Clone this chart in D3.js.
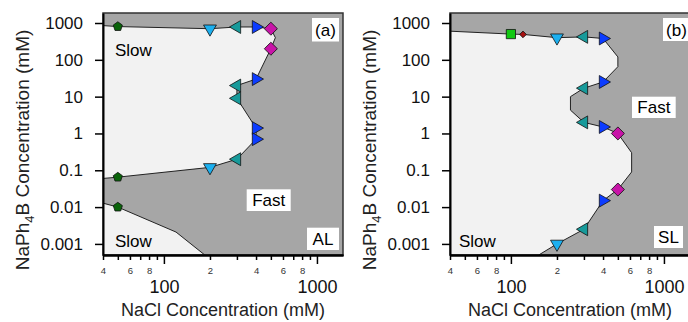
<!DOCTYPE html>
<html>
<head>
<meta charset="utf-8">
<script src="https://cdn.jsdelivr.net/npm/d3@7"></script>
<style>
body { margin: 0; background: #fff; }
text { font-family: "Liberation Sans", Arial, sans-serif; }
</style>
</head>
<body>
<script>
// axis ticks
var xMinorTicks = [40, 50, 60, 70, 80, 90, 200, 300, 400, 500, 600, 700, 800, 900];
var xMinorLabels = {40: "4", 60: "6", 80: "8", 200: "2", 400: "4", 600: "6", 800: "8"};
var xMajorTicks = [100, 1000];
var yTicks = [0.001, 0.01, 0.1, 1, 10, 100, 1000];
var yTickLabels = ["0.001", "0.01", "0.1", "1", "10", "100", "1000"];

// panel (a) boundaries  [NaCl, NaPh4B]
var aUpper = [[40, 850], [50, 800], [200, 700], [300, 780], [400, 780], [500, 700], [535, 400], [500, 200],
              [400, 30], [300, 20], [300, 9], [400, 1.4], [400, 0.7], [300, 0.2], [200, 0.12], [50, 0.065], [40, 0.06]];
var aLower = [[40, 0.0128], [50, 0.01], [120, 0.0021], [185, 0.0005]];

// panel (a) markers
var aPentagon = [[50, 800], [50, 0.065], [50, 0.01]];
var aDown = [[200, 700], [200, 0.12]];
var aLeft = [[300, 780], [300, 20], [300, 9], [300, 0.2]];
var aRight = [[400, 780], [400, 30], [400, 1.4], [400, 0.7]];
var aDiamond = [[500, 700], [500, 200]];

// panel (b) boundary
var bBound = [[40, 600], [100, 500], [120, 490], [200, 400], [300, 420], [400, 380], [500, 120], [500, 65],
              [400, 25], [300, 17], [245, 10], [245, 4.3], [300, 2], [400, 1.5], [500, 1], [615, 0.3], [615, 0.09],
              [500, 0.03], [400, 0.015], [300, 0.0025], [200, 0.001], [152, 0.0005]];

// panel (b) markers
var bSquare = [[100, 500]];
var bSmall = [[120, 490]];
var bDown = [[200, 400], [200, 0.001]];
var bLeft = [[300, 420], [300, 17], [300, 2], [300, 0.0025]];
var bRight = [[400, 380], [400, 25], [400, 1.5], [400, 0.015]];
var bDiamond = [[500, 1], [500, 0.03]];

var W = 240, H = 242;
var light = "#f2f2f2", dark = "#a6a6a6";

var pentagon = {
	draw: function(ctx, size) {
		var r = Math.sqrt(size / 2.378);
		for (var i = 0; i < 5; i++) {
			var a = -Math.PI / 2 + i * 2 * Math.PI / 5;
			if (i == 0) ctx.moveTo(r * Math.cos(a), r * Math.sin(a));
			else ctx.lineTo(r * Math.cos(a), r * Math.sin(a));
		}
		ctx.closePath();
	}
};

var svg = d3.select("body").append("svg")
	.attr("width", 688)
	.attr("height", 322);

function panel(id, left, polys, lines, markers, labels) {
	var x = d3.scaleLog().domain([40, 1480]).range([0, W]);
	var y = d3.scaleLog().domain([0.0005, 1870]).range([H, 0]);
	var g = svg.append("g").attr("transform", "translate(" + left + ",13)");

	g.append("clipPath").attr("id", "clip" + id)
		.append("rect").attr("width", W).attr("height", H);
	var plot = g.append("g").attr("clip-path", "url(#clip" + id + ")");

	plot.append("rect").attr("width", W).attr("height", H).attr("fill", dark);

	var line = d3.line().x(function(d){ return x(d[0]); }).y(function(d){ return y(d[1]); });

	plot.selectAll("path.light").data(polys)
		.enter().append("path")
		.attr("class", "light")
		.attr("d", function(d){ return line(d) + "Z"; })
		.attr("fill", light);

	plot.selectAll("path.bound").data(lines)
		.enter().append("path")
		.attr("class", "bound")
		.attr("d", line)
		.attr("fill", "none")
		.attr("stroke", "#222")
		.attr("stroke-width", 1);

	markers.forEach(function(m) {
		plot.selectAll(null).data(m.data)
			.enter().append("path")
			.attr("d", d3.symbol().type(m.type).size(m.size))
			.attr("transform", function(d){ return "translate(" + x(d[0]) + "," + y(d[1]) + ") rotate(" + m.rot + ")"; })
			.attr("fill", m.color)
			.attr("stroke", "#111")
			.attr("stroke-width", 0.8);
	});

	labels.forEach(function(l) {
		if (l.box) {
			g.append("rect").attr("x", l.x).attr("y", l.y).attr("width", l.w).attr("height", l.h).attr("fill", "#fff");
			g.append("text").attr("x", l.x + l.w / 2).attr("y", l.y + l.h / 2).attr("dy", "0.36em")
				.attr("text-anchor", "middle").attr("font-size", 17).text(l.t);
		} else {
			g.append("text").attr("x", l.x).attr("y", l.y).attr("font-size", 17).text(l.t);
		}
	});

	// frame
	g.append("rect").attr("width", W).attr("height", H)
		.attr("fill", "none").attr("stroke", "#333").attr("stroke-width", 1.5);

	var yAxis = g.append("g")
		.call(d3.axisLeft(y).tickValues(yTicks).tickFormat(function(d, i){ return yTickLabels[i]; })
			.tickSize(8).tickPadding(12).tickSizeOuter(0));
	yAxis.selectAll("text").attr("font-size", 17).attr("fill", "#111");

	var xMinor = g.append("g").attr("transform", "translate(0," + H + ")")
		.call(d3.axisBottom(x).tickValues(xMinorTicks).tickFormat(function(d){ return xMinorLabels[d] || ""; })
			.tickSize(5).tickPadding(7).tickSizeOuter(0));
	xMinor.selectAll("text").attr("font-size", 9.5).attr("fill", "#333");

	var xMajor = g.append("g").attr("transform", "translate(0," + H + ")")
		.call(d3.axisBottom(x).tickValues(xMajorTicks).tickFormat(d3.format("d"))
			.tickSize(9).tickPadding(16).tickSizeOuter(0));
	xMajor.selectAll("text").attr("font-size", 18).attr("fill", "#111");

	g.selectAll(".domain").attr("stroke", "#000").attr("stroke-width", 2);
	g.selectAll(".tick line").attr("stroke", "#000").attr("stroke-width", 1.5);

	g.append("text")
		.attr("x", W / 2).attr("y", 303)
		.attr("text-anchor", "middle").attr("font-size", 18).attr("fill", "#222")
		.text("NaCl Concentration (mM)");

	var yt = g.append("text")
		.attr("transform", "translate(-74," + (H / 2 + 16) + ") rotate(-90)")
		.attr("text-anchor", "middle").attr("font-size", 19).attr("fill", "#222");
	yt.append("tspan").text("NaPh");
	yt.append("tspan").attr("font-size", 13).attr("dy", 5).text("4");
	yt.append("tspan").attr("dy", -5).text("B Concentration (mM)");
}

panel("a", 103, [aUpper, aLower.concat([[40, 0.0005]])], [aUpper, aLower], [
	{data: aPentagon, type: pentagon, size: 55, rot: 0, color: "#0a640a"},
	{data: aDown, type: d3.symbolTriangle, size: 72, rot: 180, color: "#1cb0f0"},
	{data: aLeft, type: d3.symbolTriangle, size: 72, rot: -90, color: "#179a9a"},
	{data: aRight, type: d3.symbolTriangle, size: 72, rot: 90, color: "#0c3cff"},
	{data: aDiamond, type: d3.symbolSquare, size: 85, rot: 45, color: "#c814a8"}
], [
	{t: "(a)", box: true, x: 209, y: 5, w: 27, h: 23.5},
	{t: "AL", box: true, x: 204, y: 214.7, w: 32, h: 22.3},
	{t: "Fast", box: true, x: 143.7, y: 176.3, w: 44, h: 21.7},
	{t: "Slow", x: 12, y: 43},
	{t: "Slow", x: 12, y: 234}
]);

panel("b", 450, [bBound.concat([[40, 0.0005]])], [bBound], [
	{data: bSquare, type: d3.symbolSquare, size: 85, rot: 0, color: "#12c812"},
	{data: bSmall, type: d3.symbolSquare, size: 22, rot: 45, color: "#a81010"},
	{data: bDown, type: d3.symbolTriangle, size: 72, rot: 180, color: "#1cb0f0"},
	{data: bLeft, type: d3.symbolTriangle, size: 72, rot: -90, color: "#179a9a"},
	{data: bRight, type: d3.symbolTriangle, size: 72, rot: 90, color: "#0c3cff"},
	{data: bDiamond, type: d3.symbolSquare, size: 85, rot: 45, color: "#c814a8"}
], [
	{t: "(b)", box: true, x: 213, y: 5, w: 27, h: 23},
	{t: "SL", box: true, x: 204, y: 213, w: 29, h: 22},
	{t: "Fast", box: true, x: 182, y: 83.7, w: 43.7, h: 21.3},
	{t: "Slow", x: 9, y: 234}
]);
</script>
</body>
</html>
